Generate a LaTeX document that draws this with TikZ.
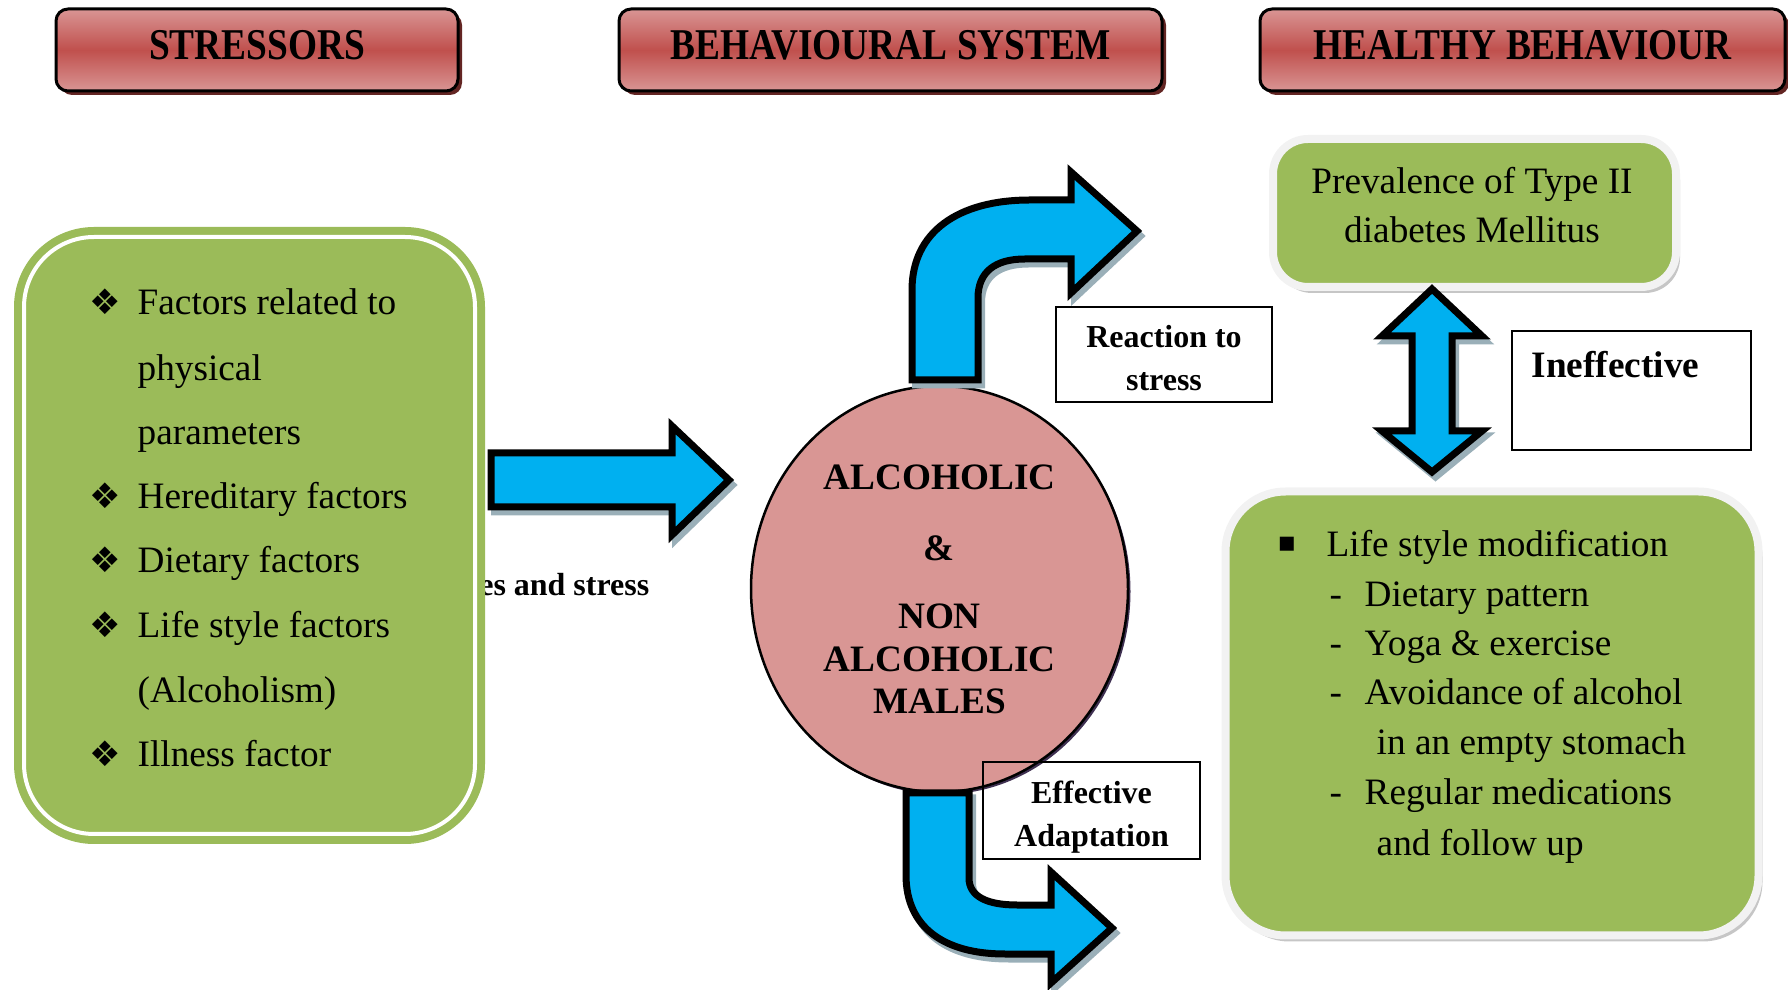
\documentclass[tikz,border=0pt]{standalone}
\usepackage{fontspec}
\setmainfont{Liberation Serif}
\newfontfamily\headfont[FakeStretch=0.85]{Liberation Serif}
\newfontfamily\symfont{DejaVu Sans}
\usetikzlibrary{shapes.geometric}
\usetikzlibrary{shadows}

\definecolor{hdrlight}{HTML}{D99594}
\definecolor{hdrdark}{HTML}{C0504D}
\definecolor{hdrshadow}{HTML}{632523}
\definecolor{leafgreen}{HTML}{9BBB59}
\definecolor{skyblue}{HTML}{00B0F0}
\definecolor{rosefill}{HTML}{D99694}
\definecolor{paleframe}{HTML}{F2F2F2}
\definecolor{arrowshadow}{HTML}{9AAFB8}
\definecolor{circleshadow}{HTML}{403152}

\tikzset{
    header/.style={rounded corners=1.2mm, draw=black, line width=0.3mm,
        top color=hdrlight, bottom color=hdrlight, middle color=hdrdark,
        minimum height=8.2mm, inner sep=0, text depth=1mm,
        font=\headfont\bfseries\fontsize{12.5}{14}\selectfont,
        drop shadow={shadow xshift=0.4mm, shadow yshift=-0.4mm, fill=hdrshadow, opacity=1}},
    stressbox/.style={draw=leafgreen, fill=leafgreen, double=white,
        double distance=0.4mm, line width=0.8mm, rounded corners=7mm},
    greenbox/.style={fill=leafgreen, draw=paleframe, line width=0.8mm,
        drop shadow={shadow xshift=0.4mm, shadow yshift=-0.6mm, fill=gray!45, opacity=1}},
    blockarrow/.style={draw=black, fill=skyblue, line width=0.7mm, line join=miter,
        preaction={draw=arrowshadow, fill=arrowshadow, line width=0.7mm,
            transform canvas={shift={(0.35mm,-0.5mm)}}}},
    labelbox/.style={draw=black, line width=0.2mm, align=center, inner sep=0,
        font=\bfseries\fontsize{9.1}{12.2}\selectfont},
    itemtext/.style={anchor=base west, inner sep=0, font=\fontsize{10.6}{12.7}\selectfont},
    diamondmark/.style={inner sep=0, font=\symfont\fontsize{10}{10}\selectfont},
}

\begin{document}
\begin{tikzpicture}[x=0.1mm, y=-0.1mm]
    \useasboundingbox (0,0) rectangle (1788,990);

    % headings
    \node[header, minimum width=40.2mm] (stressors) at (257,50) {STRESSORS};
    \node[header, minimum width=54.3mm] (system) at (890.5,50) {BEHAVIOURAL SYSTEM};
    \node[header, minimum width=52.5mm] (healthy) at (1522.5,50) {HEALTHY BEHAVIOUR};

    % caption partly hidden behind the stressor box
    \node[anchor=east, inner sep=0, font=\bfseries\fontsize{9.1}{11}\selectfont] (influence) at (650,585) {ces and stress};

    % stressors
    \node[stressbox, minimum width=45.1mm, minimum height=59.7mm] (factors) at (249.5,535.5) {};
    \foreach \yy/\txt [count=\i] in {315/Factors related to, 381/physical, 445/parameters,
        509/Hereditary factors, 573/Dietary factors, 638/Life style factors,
        703/(Alcoholism), 767/Illness factor} {
        \node[itemtext] (factor-\i) at (137,\yy) {\txt};
    }
    \foreach \yy [count=\i] in {302,496,560,625,754} {
        \node[diamondmark] (mark-\i) at (105,\yy) {❖};
    }

    \draw[blockarrow] (491,453) -- (672,453) -- (672,426) -- (729,480) -- (672,535)
        -- (672,507) -- (491,507) -- cycle;

    % behavioural system
    \node[ellipse, draw=black, line width=0.25mm, fill=rosefill, inner sep=0,
        minimum width=37.7mm, minimum height=40.6mm, align=center,
        font=\bfseries\fontsize{10.6}{12}\selectfont,
        drop shadow={shadow xshift=0.25mm, shadow yshift=-0.25mm, fill=circleshadow, opacity=1}]
        (males) at (939.5,589) {ALCOHOLIC\\[8.4pt]\&\\[7.4pt]NON\\ALCOHOLIC\\MALES};

    \draw[blockarrow] (912,380) -- (912,290) .. controls (912,232) and (958,200) .. (1030,200)
        -- (1071,200) -- (1071,172) -- (1137,231) -- (1071,293) -- (1071,259) -- (1025,259)
        .. controls (995,259) and (978,272) .. (978,298) -- (978,380) -- cycle;
    \draw[blockarrow] (906,793) -- (906,875) .. controls (906,928) and (945,954) .. (1005,954)
        -- (1051,954) -- (1051,983) -- (1112,928) -- (1051,872) -- (1051,905) -- (1017,905)
        .. controls (988,905) and (969,897) .. (969,878) -- (969,793) -- cycle;

    \node[labelbox, minimum width=21.6mm, minimum height=9.5mm, text height=20.3pt] (reaction) at (1164,354.5) {Reaction to\\stress};
    \node[labelbox, minimum width=21.7mm, minimum height=9.7mm, text height=22.3pt] (effective) at (1091.5,810.5) {Effective\\Adaptation};

    % healthy behaviour
    \node[greenbox, rounded corners=3.5mm, minimum width=40.3mm, minimum height=14.8mm] (prevalence) at (1474.5,213) {};
    \node[inner sep=0, align=center, font=\fontsize{10.6}{14}\selectfont] (prevalence-text) at (1472,205) {Prevalence of Type II\\diabetes Mellitus};

    \draw[blockarrow] (1432,289) -- (1482,336) -- (1452,336) -- (1452,431) -- (1482,431)
        -- (1432,472) -- (1382,431) -- (1412,431) -- (1412,336) -- (1382,336) -- cycle;

    \node[labelbox, minimum width=23.9mm, minimum height=11.9mm] (ineffective) at (1631.5,390.5) {};
    \node[anchor=base west, inner sep=0, font=\bfseries\fontsize{10.6}{12.7}\selectfont] (ineffective-text) at (1531,378) {Ineffective};

    \node[greenbox, rounded corners=6mm, minimum width=53.3mm, minimum height=44.4mm] (lifestyle) at (1492,713.5) {};
    \node[inner sep=0, font=\symfont\fontsize{8}{8}\selectfont] (square) at (1287,544) {▪};
    \node[itemtext] (modify-0) at (1326,557) {Life style modification};
    \foreach \yy/\txt [count=\i] in {607/Dietary pattern, 656/Yoga \& exercise,
        705/Avoidance of alcohol, 804/Regular medications} {
        \node[itemtext] (dash-\i) at (1329,\yy) {-};
        \node[itemtext] (modify-\i) at (1364,\yy) {\txt};
    }
    \node[itemtext] (modify-5) at (1376,755) {in an empty stomach};
    \node[itemtext] (modify-6) at (1376,855) {and follow up};
\end{tikzpicture}
\end{document}
